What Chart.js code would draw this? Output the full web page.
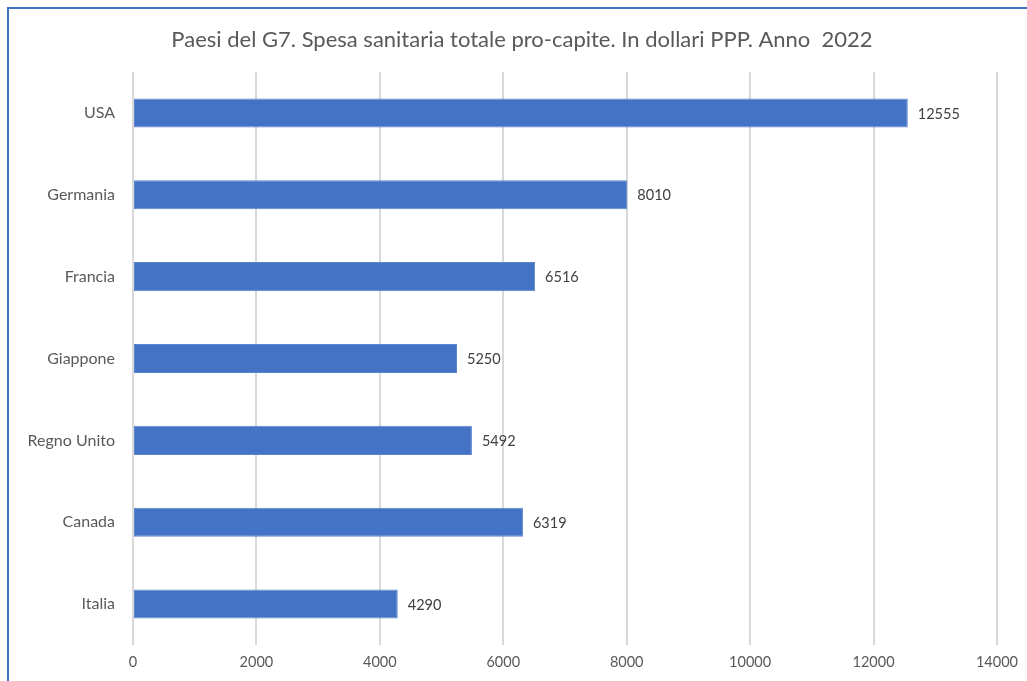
<!DOCTYPE html>
<html>
<head>
<meta charset="utf-8">
<script src="https://cdn.jsdelivr.net/npm/chart.js@4"></script>
<style>
  html, body { margin: 0; padding: 0; background: #fff; }
  #wrap { position: relative; width: 1027px; height: 681px; overflow: hidden; }
  #power-chart { position: absolute; left: 0; top: 0; }
  #frame {
    position: absolute; left: 7px; top: 7px; width: 1100px; height: 800px;
    border-top: 2px solid #4472c4; border-left: 2px solid #4472c4;
    pointer-events: none;
  }
</style>
</head>
<body>
<div id="wrap">
  <canvas id="power-chart" width="1027" height="681"></canvas>
  <div id="frame"></div>
</div>
<script>
const paesi = ['USA', 'Germania', 'Francia', 'Giappone', 'Regno Unito', 'Canada', 'Italia'];
const spesa = [12555, 8010, 6516, 5250, 5492, 6319, 4290];
const xTicks = [0, 2000, 4000, 6000, 8000, 10000, 12000, 14000];
const titolo = 'Paesi del G7. Spesa sanitaria totale pro-capite. In dollari PPP. Anno  2022';

const FONT = 'Lato, "Open Sans", sans-serif';

// titolo centrato sul riquadro (non sul canvas)
const titlePlugin = {
  id: 'titlePlugin',
  afterDraw(chart) {
    const ctx = chart.ctx;
    ctx.save();
    ctx.font = '22px ' + FONT;
    ctx.fillStyle = '#595959';
    ctx.textAlign = 'center';
    ctx.textBaseline = 'middle';
    ctx.fillText(titolo, 522, 40);
    ctx.restore();
  }
};

// etichette valori a destra delle barre
const valueLabels = {
  id: 'valueLabels',
  afterDatasetsDraw(chart) {
    const ctx = chart.ctx;
    const meta = chart.getDatasetMeta(0);
    ctx.save();
    ctx.font = '14.5px ' + FONT;
    ctx.fillStyle = '#404040';
    ctx.textAlign = 'left';
    ctx.textBaseline = 'middle';
    meta.data.forEach((bar, i) => {
      ctx.fillText(String(spesa[i]), bar.x + 10, bar.y + 1);
    });
    ctx.restore();
  }
};

const ctx = document.getElementById('power-chart').getContext('2d');
const chart = new Chart(ctx, {
  type: 'bar',
  data: {
    labels: paesi,
    datasets: [{
      label: 'Spesa sanitaria pro-capite',
      data: spesa,
      backgroundColor: '#4472c4',
      borderColor: '#5b86d0',
      borderWidth: 1,
      borderSkipped: false,
      barPercentage: 0.355,
      categoryPercentage: 1
    }]
  },
  options: {
    indexAxis: 'y',
    responsive: false,
    animation: false,
    layout: { padding: { left: 0, right: 27, top: 72, bottom: 0 } },
    plugins: {
      legend: { display: false },
      tooltip: { enabled: false },
      title: { display: false }
    },
    scales: {
      x: {
        min: 0,
        max: 14000,
        afterBuildTicks: axis => { axis.ticks = xTicks.map(v => ({ value: v })); },
        afterFit: axis => { axis.height = 36; },
        grid: { color: '#d9d9d9', lineWidth: 2, drawTicks: false },
        border: { display: false },
        ticks: {
          color: '#595959',
          font: { family: FONT, size: 14.5 },
          padding: 9,
          callback: v => String(v)
        }
      },
      y: {
        afterFit: axis => { axis.width = 133; },
        grid: { display: false, drawTicks: false },
        border: { display: false },
        ticks: {
          color: '#595959',
          font: { family: FONT, size: 16 },
          padding: 18
        }
      }
    }
  },
  plugins: [valueLabels, titlePlugin]
});
</script>
</body>
</html>
